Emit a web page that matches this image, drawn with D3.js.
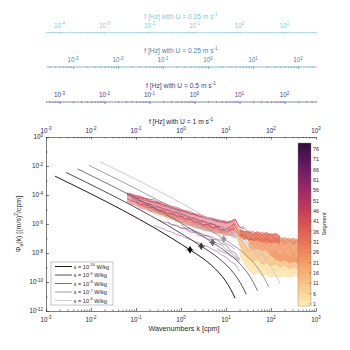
<!DOCTYPE html>
<html lang="en">
<head>
  <meta charset="UTF-8">
  <title>Spectra</title>
  <script src="https://d3js.org/d3.v7.min.js"></script>
  <style>
    body { margin: 0; background: #fff; }
    svg text { font-family: "Liberation Sans", Arial, sans-serif; fill: #262626; }
  </style>
</head>
<body>
  <div id="root"></div>
  <script>
    // grid of log10 wavenumber [cpm] for the measured spectra
    const logK = [-1.2,-1.1,-1.0,-0.9,-0.8,-0.7,-0.6,-0.5,-0.4,-0.3,-0.2,-0.1,0.0,0.1,0.2,0.3,0.4,0.5,0.6,0.7,
                  0.8,0.9,1.0,1.1,1.2,1.3,1.4,1.5,1.6,1.7,1.8,1.9,2.0,2.1,2.2,2.3,2.4,2.5,2.6]

    // envelopes of groups of spectra : segment, first grid index, log10 phi top / bottom
    const bandSeg = [3, 12, 23, 33, 44]
    const bandStart = [25, 24, 27, 25, 0]
    const bandTop = [
      [-7.4,-7.9,-8.3,-8.5,-8.4,-8.6,-8.5,-8.7,-8.6,-8.8,-8.7,-8.9,-8.8,-9.0],
      [-6.0,-6.8,-7.3,-7.6,-7.8,-7.7,-7.9,-7.8,-8.0,-7.9,-8.1,-8.0,-8.2,-8.1,-8.2],
      [-6.9,-7.0,-6.85,-7.05,-6.9,-7.1,-6.95,-7.0,-6.9,-7.05,-6.95,-7.1],
      [-6.3,-6.5,-6.45,-6.6,-6.5,-6.65,-6.55,-6.7,-6.6,-6.8],
      [-3.86,-3.9,-4.0,-4.05,-4.2,-4.25,-4.4,-4.45,-4.6,-4.68,-4.82,-4.88,-5.02,-5.1,-5.22,-5.3,-5.42,-5.5,-5.58,
       -5.66,-5.72,-5.8,-5.8,-5.75,-5.72]
    ]
    const bandBottom = [
      [-8.2,-8.8,-9.2,-9.5,-9.4,-9.6,-9.5,-9.7,-9.6,-9.7,-9.6,-9.7,-9.6,-9.7],
      [-6.6,-7.5,-8.1,-8.4,-8.6,-8.5,-8.8,-8.7,-8.9,-8.8,-9.0,-8.9,-9.1,-9.0,-9.1],
      [-7.6,-7.8,-7.7,-7.9,-7.8,-8.2,-8.4,-8.6,-8.5,-8.7,-8.6,-8.7],
      [-6.9,-7.1,-7.0,-7.2,-7.1,-7.3,-7.2,-7.35,-7.25,-7.4],
      [-4.5,-4.68,-4.75,-4.95,-5.0,-5.15,-5.2,-5.35,-5.42,-5.58,-5.66,-5.82,-5.9,-6.04,-6.12,-6.26,-6.32,-6.44,-6.48,
       -6.6,-6.62,-6.72,-6.76,-6.85,-6.95]
    ]

    // measured spectra : segment, first grid index, log10 phi
    const specSeg = [6, 11, 16, 21, 28, 33, 38, 41, 43, 46, 51, 56, 61, 66, 71, 74, 76]
    const specStart = [6, 4, 5, 3, 2, 2, 1, 0, 0, 0, 0, 1, 7, 6, 9, 20, 12]
    const specVals = [
      [-5.25,-5.45,-5.42,-5.66,-5.64,-5.88,-5.84,-6.08,-6.04,-6.28,-6.24,-6.48,-6.42,-6.66,-6.6,-6.84,-6.76,-6.75,-6.3,
       -7.4,-7.7,-8.45,-8.5,-9.05,-8.6,-9.15,-8.7,-9.25,-8.8,-9.3,-8.85,-9.35,-8.95],
      [-4.85,-5.0,-5.1,-5.2,-5.3,-5.36,-5.5,-5.62,-5.64,-5.8,-5.88,-6.0,-6.04,-6.2,-6.26,-6.36,-6.44,-6.56,-6.55,
       -6.45,-5.95],
      [-5.05,-5.28,-5.22,-5.48,-5.42,-5.68,-5.62,-5.88,-5.82,-6.08,-6.02,-6.28,-6.22,-6.48,-6.4,-6.64,-6.56,-6.78,-6.45,
       -6.25,-7.1,-7.3,-7.85,-7.8,-8.3,-7.9,-8.45,-8.0,-8.55,-8.1,-8.6,-8.2,-8.7,-8.3],
      [-4.7,-4.86,-4.92,-5.06,-5.14,-5.28,-5.3,-5.46,-5.54,-5.66,-5.72,-5.88,-5.92,-6.06,-6.14,-6.24,-6.3,-6.42,-6.48,-6.6,
       -6.35,-6.0,-6.8,-6.9,-7.45,-7.25,-7.75,-7.35,-7.85,-7.45,-7.95,-7.35,-8.05,-7.45,-8.15,-7.55],
      [-4.45,-4.66,-4.64,-4.86,-4.84,-5.06,-5.04,-5.26,-5.24,-5.46,-5.44,-5.66,-5.64,-5.86,-5.84,-6.06,-6.04,-6.26,-6.24,
       -6.42,-6.38,-6.2,-5.85,-6.6,-6.7,-7.15,-7.0,-7.35,-7.0,-7.45,-7.1],
      [-4.55,-4.7,-4.78,-4.86,-4.98,-5.1,-5.12,-5.28,-5.36,-5.46,-5.58,-5.66,-5.72,-5.88,-5.96,-6.06,-6.14,-6.24,-6.3,-6.4,
       -6.46,-6.45,-6.15,-6.7,-6.7,-7.1,-6.95,-7.15,-6.95,-7.3,-7.05,-7.3,-7.1,-7.4,-7.15,-7.4,-7.2],
      [-4.3,-4.5,-4.48,-4.7,-4.66,-4.9,-4.86,-5.1,-5.05,-5.3,-5.25,-5.5,-5.44,-5.68,-5.64,-5.88,-5.82,-6.06,-6.0,-6.2,
       -6.15,-6.35,-6.15,-6.0,-6.5,-6.5,-6.95,-6.7,-7.05,-6.75,-7.1,-6.8,-7.15,-6.9,-7.25,-6.95,-7.3,-7.0],
      [-4.0,-4.1,-4.2,-4.26,-4.38,-4.45,-4.56,-4.62,-4.76,-4.82,-4.95,-5.02,-5.12,-5.2,-5.32,-5.38,-5.5,-5.55,-5.66,
       -5.72,-5.82,-5.86,-5.95,-5.9,-5.7,-6.25,-6.2,-6.65,-6.5,-6.8,-6.55,-6.85,-6.65,-6.95],
      [-4.25,-4.42,-4.46,-4.64,-4.66,-4.84,-4.88,-5.04,-5.08,-5.24,-5.28,-5.44,-5.48,-5.64,-5.68,-5.84,-5.86,-6.04,-6.04,
       -6.22,-6.2,-6.4,-6.36,-6.35,-6.4,-6.8,-6.75,-7.1,-7.0],
      [-3.85,-3.95,-4.05,-4.1,-4.22,-4.3,-4.33,-4.5,-4.52,-4.66,-4.8,-4.84,-4.98,-5.1,-5.12,-5.3,-5.34,-5.44,-5.56,
       -5.6,-5.7,-5.74,-5.8],
      [-3.95,-4.02,-4.15,-4.2,-4.26,-4.42,-4.48,-4.55,-4.68,-4.74,-4.86,-4.95,-5.06,-5.12,-5.25,-5.3,-5.44,-5.48,-5.62,
       -5.66,-5.78,-5.84,-5.9,-5.82,-5.65,-6.2,-6.35],
      [-4.18,-4.34,-4.4,-4.54,-4.6,-4.74,-4.8,-4.94,-5.0,-5.14,-5.2,-5.34,-5.4,-5.54,-5.6,-5.74,-5.8,-5.94,-6.0,-6.14,
       -6.22,-6.42,-6.55,-6.85],
      [-5.7,-5.86,-5.9,-6.06,-6.1,-6.26,-6.3,-6.46,-6.5,-6.66,-6.7,-6.86,-6.9,-7.06,-7.15,-7.35,-7.5,-7.75],
      [-6.1,-6.24,-6.32,-6.48,-6.56,-6.72,-6.8,-6.96,-7.04,-7.2,-7.3,-7.46,-7.56,-7.76,-7.88,-8.14,-8.28,-8.6,-8.75,-9.25],
      [-5.85,-6.05,-6.1,-6.3,-6.35,-6.55,-6.6,-6.8,-6.85,-7.05,-7.1,-7.35,-7.45,-7.75,-7.95,-8.25,-8.45],
      [-7.7,-7.9,-8.0,-8.2,-8.35,-8.6],
      [-6.05,-6.3,-6.3,-6.55,-6.55,-6.8,-6.8,-7.05,-7.1,-7.35,-7.45,-7.85,-8.0,-8.45]
    ]

    // model spectra for each dissipation rate (log10 k, log10 phi)
    const epsExp = [-10, -9, -8, -7, -6]
    const modelLogK = [
      [-2.8, 0.2, 0.501, 0.677, 0.853, 0.978, 1.103, 1.2],
      [-2.55, 0.45, 0.751, 0.927, 1.103, 1.228, 1.353, 1.45],
      [-2.3, 0.7, 1.001, 1.177, 1.353, 1.478, 1.603, 1.7],
      [-2.05, 0.95, 1.251, 1.427, 1.603, 1.728, 1.853, 1.95],
      [-1.8, 1.2, 1.501, 1.677, 1.853, 1.978, 2.103, 2.2]
    ]
    const modelLogPhi = [
      [-2.7, -7.78, -8.405, -8.844, -9.388, -9.876, -10.495, -11.104],
      [-2.45, -7.53, -8.155, -8.594, -9.138, -9.626, -10.245, -10.854],
      [-2.2, -7.28, -7.905, -8.344, -8.888, -9.376, -9.995, -10.604],
      [-1.95, -7.03, -7.655, -8.094, -8.638, -9.126, -9.745, -10.354],
      [-1.7, -6.78, -7.405, -7.844, -8.388, -8.876, -9.495, -10.104]
    ]
    // marker at 0.1 k_eta (index into model arrays)
    const markIdx = 1

    const speeds = [0.05, 0.25, 0.5, 1]
    const speedText = ['0.05', '0.25', '0.5', '1']
    const segTicks = [1, 6, 11, 16, 21, 26, 31, 36, 41, 46, 51, 56, 61, 66, 71, 76]

    // ---- styles
    const epsColors = ['#000000', '#3a3a3a', '#646464', '#959595', '#c6c6c6']
    const speedColors = ['#7accd6', '#3d86b8', '#3b3d8e', '#25204f']
    const speedLineY = [32, 66.5, 101.5, 137]
    const cmapStops = ['#fdedb0', '#f9cf92', '#f5b175', '#f09260', '#e87254', '#d95350',
                       '#c23a5a', '#a32a65', '#7d1f66', '#561759', '#2f0f3d']
    const interp = d3.piecewise(d3.interpolateRgb, cmapStops)
    const segDomain = [0, 79]
    const segColor = s => interp((s - segDomain[0]) / (segDomain[1] - segDomain[0]))
    const tickFs = 6.3

    const svg = d3.select('#root')
      .append('svg')
      .attr('width', 350)
      .attr('height', 350)
      .style('background', '#fff')

    const x = d3.scaleLog().domain([1e-3, 1e3]).range([46, 316])
    const y = d3.scaleLog().domain([1e-12, 1]).range([311, 137])
    const px = v => x(Math.pow(10, v))
    const py = v => y(Math.pow(10, v))

    function minors(lo, hi) {
      const out = []
      for (let e = Math.floor(Math.log10(lo)) - 1; e <= Math.ceil(Math.log10(hi)); e++) {
        for (let d = 2; d <= 9; d++) {
          const v = d * Math.pow(10, e)
          if (v >= lo * 0.999 && v <= hi * 1.001) out.push(v)
        }
      }
      return out
    }
    function majors(lo, hi) {
      const out = []
      for (let e = Math.ceil(Math.log10(lo) - 1e-9); e <= Math.floor(Math.log10(hi) + 1e-9); e++) out.push(e)
      return out
    }
    // "10" with exponent
    function pow10(t, e, fs) {
      t.append('tspan').text('10')
      t.append('tspan').attr('dy', -fs * 0.42).attr('font-size', fs * 0.7).text(e)
    }

    // ---- data : envelopes + spectra, drawn by segment
    const marks = []
    bandSeg.forEach((s, i) => marks.push({ seg: s, type: 'band', i }))
    specSeg.forEach((s, i) => marks.push({ seg: s, type: 'line', i }))
    marks.sort((a, b) => a.seg - b.seg || (a.type === 'band' ? -1 : 1))

    const dataG = svg.append('g')
    const area = d3.area()
      .x(d => px(d[0])).y0(d => py(d[2])).y1(d => py(d[1]))
    const line = d3.line().x(d => px(d[0])).y(d => py(d[1]))

    marks.forEach(m => {
      if (m.type === 'band') {
        const st = bandStart[m.i]
        const pts = bandTop[m.i].map((v, j) => [logK[st + j], v, bandBottom[m.i][j]])
        dataG.append('path').attr('d', area(pts))
          .attr('fill', segColor(m.seg)).attr('fill-opacity', m.seg > 40 ? 0.45 : 0.8)
      } else {
        const st = specStart[m.i]
        const pts = specVals[m.i].map((v, j) => [logK[st + j], v])
        dataG.append('path').attr('d', line(pts))
          .attr('fill', 'none').attr('stroke', segColor(m.seg))
          .attr('stroke-width', m.seg > 58 ? 0.6 : 0.75).attr('stroke-opacity', m.seg > 58 ? 0.7 : 0.85)
      }
    })

    // ---- model spectra
    const mline = d3.line().curve(d3.curveMonotoneX).x(d => px(d[0])).y(d => py(d[1]))
    epsExp.forEach((e, i) => {
      const pts = modelLogK[i].map((k, j) => [k, modelLogPhi[i][j]])
      svg.append('path').attr('d', mline(pts))
        .attr('fill', 'none').attr('stroke', epsColors[i]).attr('stroke-width', 0.9)
    })
    epsExp.forEach((e, i) => {
      const cx = px(modelLogK[i][markIdx]), cy = py(modelLogPhi[i][markIdx])
      svg.append('line').attr('x1', cx - 3.5).attr('x2', cx + 3.5).attr('y1', cy).attr('y2', cy)
        .attr('stroke', epsColors[i]).attr('stroke-width', 0.8)
      svg.append('path').attr('d', d3.symbol(d3.symbolDiamond, 18)())
        .attr('transform', `translate(${cx},${cy})`).attr('fill', epsColors[i])
    })

    // ---- bottom axis
    const axColor = '#262626'
    const bx = svg.append('g').attr('transform', 'translate(0,311)')
    bx.call(d3.axisBottom(x).tickValues(majors(1e-3, 1e3).map(e => Math.pow(10, e))).tickSize(-3).tickSizeOuter(0).tickFormat(''))
    bx.append('g').call(d3.axisBottom(x).tickValues(minors(1e-3, 1e3)).tickSize(-1.5).tickSizeOuter(0).tickFormat(''))
      .select('.domain').remove()
    bx.selectAll('path,line').attr('stroke', axColor).attr('stroke-width', 0.6)
    majors(1e-3, 1e3).forEach(e => {
      const t = svg.append('text').attr('x', x(Math.pow(10, e))).attr('y', 321.5)
        .attr('text-anchor', 'middle').attr('font-size', tickFs)
      pow10(t, e, tickFs)
    })
    svg.append('text').attr('x', 184).attr('y', 330.5).attr('text-anchor', 'middle')
      .attr('font-size', 7.2).text('Wavenumbers k [cpm]')

    // ---- left axis
    const yMaj = d3.range(-12, 1, 2)
    const yMin = d3.range(-11, 0, 2)
    const lx = svg.append('g').attr('transform', 'translate(46,0)')
    lx.call(d3.axisLeft(y).tickValues(yMaj.map(e => Math.pow(10, e))).tickSize(-3).tickSizeOuter(0).tickFormat(''))
    lx.append('g').call(d3.axisLeft(y).tickValues(yMin.map(e => Math.pow(10, e))).tickSize(-1.5).tickSizeOuter(0).tickFormat(''))
      .select('.domain').remove()
    lx.selectAll('path,line').attr('stroke', axColor).attr('stroke-width', 0.6)
    yMaj.forEach(e => {
      const t = svg.append('text').attr('x', 43).attr('y', y(Math.pow(10, e)) + 2.2)
        .attr('text-anchor', 'end').attr('font-size', tickFs)
      pow10(t, e, tickFs)
    })
    const yl = svg.append('text').attr('transform', 'translate(21,224) rotate(-90)')
      .attr('text-anchor', 'middle').attr('font-size', 7)
    yl.append('tspan').text('Φ')
    yl.append('tspan').attr('dy', 1.6).attr('font-size', 5).text('u')
    yl.append('tspan').attr('dy', -1.6).text('(k) [(m/s)')
    yl.append('tspan').attr('dy', -2.8).attr('font-size', 5).text('2')
    yl.append('tspan').attr('dy', 2.8).text('/cpm]')

    // ---- frequency axes
    speeds.forEach((U, i) => {
      const lo = 1e-3 * U, hi = 1e3 * U
      const fx = d3.scaleLog().domain([lo, hi]).range([46, 316])
      const ly = speedLineY[i]
      const col = speedColors[i]
      const g = svg.append('g').attr('transform', `translate(0,${ly})`)
      g.call(d3.axisTop(fx).tickValues(majors(lo, hi).map(e => Math.pow(10, e))).tickSize(-2.5).tickSizeOuter(0).tickFormat(''))
      g.append('g').call(d3.axisTop(fx).tickValues(minors(lo, hi)).tickSize(-1.3).tickSizeOuter(0).tickFormat(''))
        .select('.domain').remove()
      g.selectAll('path,line').attr('stroke', col).attr('stroke-width', 0.6)
      majors(lo, hi).forEach(e => {
        const t = svg.append('text').attr('x', fx(Math.pow(10, e))).attr('y', ly - 4.3)
          .attr('text-anchor', 'middle').attr('font-size', tickFs).style('fill', col)
        pow10(t, e, tickFs)
      })
      const tt = svg.append('text').attr('x', 181).attr('y', ly - 13.5)
        .attr('text-anchor', 'middle').attr('font-size', 6.7).style('fill', col)
      tt.append('tspan').text('f [Hz] with U = ' + speedText[i] + ' m s')
      tt.append('tspan').attr('dy', -2.6).attr('font-size', 4.7).text('-1')
    })

    // ---- legend
    const lg = svg.append('g')
    lg.append('rect').attr('x', 51).attr('y', 262).attr('width', 62).attr('height', 43)
      .attr('fill', '#fff').attr('stroke', '#8c8c8c').attr('stroke-width', 0.5)
    epsExp.forEach((e, i) => {
      const ly = 266.5 + i * 8.5
      lg.append('line').attr('x1', 55).attr('x2', 72).attr('y1', ly).attr('y2', ly)
        .attr('stroke', epsColors[i]).attr('stroke-width', 0.9)
      const t = lg.append('text').attr('x', 74).attr('y', ly + 2).attr('font-size', 5.6)
      t.append('tspan').text('ε = 10')
      t.append('tspan').attr('dy', -2.3).attr('font-size', 4).text(e)
      t.append('tspan').attr('dy', 2.3).text(' W/kg')
    })

    // ---- colorbar
    const cbY = d3.scaleLinear().domain(segDomain).range([306, 143])
    const grad = svg.append('defs').append('linearGradient').attr('id', 'cb')
      .attr('x1', 0).attr('y1', 1).attr('x2', 0).attr('y2', 0)
    d3.range(0, 1.0001, 0.05).forEach(t => {
      grad.append('stop').attr('offset', t).attr('stop-color', interp(t))
    })
    svg.append('rect').attr('x', 298).attr('y', 143).attr('width', 13).attr('height', 163)
      .attr('fill', 'url(#cb)').attr('stroke', '#7f7f7f').attr('stroke-width', 0.4)
    segTicks.forEach(s => {
      svg.append('line').attr('x1', 309.5).attr('x2', 311).attr('y1', cbY(s)).attr('y2', cbY(s))
        .attr('stroke', '#262626').attr('stroke-width', 0.5)
      svg.append('text').attr('x', 313).attr('y', cbY(s) + 1.9).attr('font-size', 5.4).text(s)
    })
    svg.append('text').attr('transform', 'translate(325.5,224) rotate(-90)')
      .attr('text-anchor', 'middle').attr('font-size', 5.8).text('Segment')
  </script>
</body>
</html>
